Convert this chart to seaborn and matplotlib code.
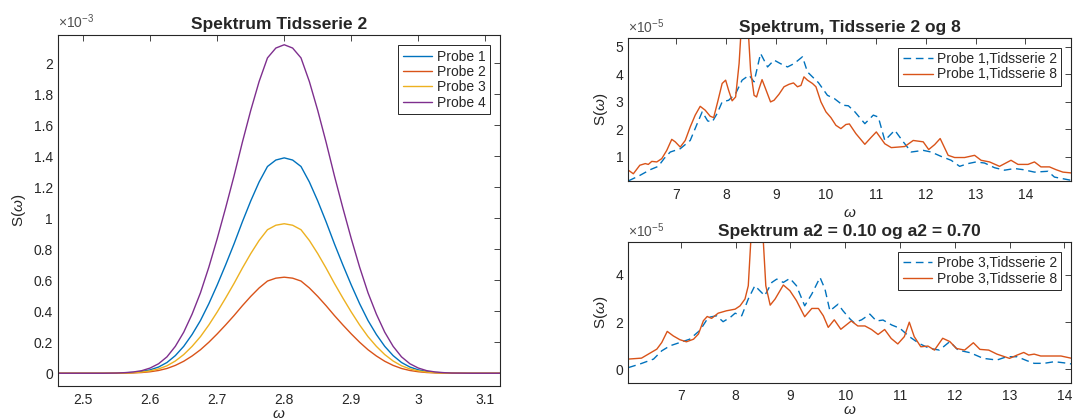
import numpy as np
import pandas as pd
import matplotlib
matplotlib.use("Agg")
import matplotlib.pyplot as plt
from matplotlib.ticker import FuncFormatter
import seaborn as sns

# ---------------- data ----------------
# Left panel: spectra for four probes, time series 2 (S in units of 1e-3)
omega_left = [2.46, 2.50, 2.53, 2.55, 2.5625, 2.575, 2.5875, 2.60, 2.6125, 2.625,
              2.6375, 2.65, 2.6625, 2.675, 2.6875, 2.70, 2.7125, 2.725, 2.7375,
              2.75, 2.7625, 2.775, 2.7875, 2.80, 2.8125, 2.825, 2.8375, 2.85,
              2.8625, 2.875, 2.8875, 2.90, 2.9125, 2.925, 2.9375, 2.95, 2.9625,
              2.975, 2.9875, 3.00, 3.0125, 3.025, 3.0375, 3.05, 3.08, 3.125]
spectrum_shape = [0.0, 0.0, 0.0, 0.0006, 0.002, 0.004, 0.008, 0.016, 0.029, 0.050,
                  0.082, 0.125, 0.180, 0.245, 0.323, 0.410, 0.503, 0.600, 0.703,
                  0.800, 0.888, 0.960, 0.990, 1.000, 0.990, 0.960, 0.888, 0.800,
                  0.703, 0.600, 0.503, 0.410, 0.323, 0.245, 0.180, 0.125, 0.082,
                  0.050, 0.029, 0.016, 0.008, 0.004, 0.002, 0.0006, 0.0, 0.0]
probe_names = ["Probe 1", "Probe 2", "Probe 3", "Probe 4"]
probe_peaks = [1.39, 0.62, 0.965, 2.12]

# Top right: probe 1, time series 2 and 8 (S in units of 1e-5)
w_p1_ts2 = [6.04, 6.27, 6.48, 6.64, 6.76, 6.88, 7.08, 7.28, 7.42, 7.52, 7.63, 7.72,
            7.82, 7.92, 8.05, 8.19, 8.32, 8.46, 8.56, 8.69, 8.83, 8.96, 9.09, 9.23,
            9.36, 9.53, 9.63, 9.73, 9.85, 10.03, 10.17, 10.34, 10.45, 10.58, 10.78,
            10.95, 11.05, 11.18, 11.38, 11.55, 11.71, 11.95, 12.11, 12.31, 12.51,
            12.68, 12.85, 13.01, 13.18, 13.38, 13.58, 13.78, 13.95, 14.18, 14.45,
            14.58, 14.75, 14.92]
s_p1_ts2 = [0.13, 0.33, 0.54, 0.66, 0.95, 1.18, 1.30, 1.60, 2.21, 2.64, 2.31, 2.27,
            2.58, 3.00, 3.06, 3.30, 3.79, 3.97, 3.73, 4.76, 4.27, 4.52, 4.39, 4.27,
            4.39, 4.64, 4.09, 3.91, 3.70, 3.24, 3.12, 2.88, 2.86, 2.64, 2.21,
            2.52, 2.45, 1.60, 1.97, 1.55, 1.18, 1.24, 1.18, 1.02, 0.88,
            0.66, 0.76, 0.82, 0.78, 0.61, 0.52, 0.58, 0.54, 0.45, 0.48,
            0.27, 0.21, 0.15]

w_p1_ts8 = [6.04, 6.14, 6.27, 6.38, 6.44, 6.51, 6.61, 6.71, 6.81, 6.91, 6.98, 7.08,
            7.18, 7.28, 7.38, 7.48, 7.58, 7.68, 7.75, 7.83, 7.92, 7.99, 8.05, 8.12,
            8.19, 8.26, 8.32, 8.37, 8.43, 8.49, 8.56, 8.61, 8.66, 8.72, 8.79, 8.89,
            8.96, 9.06, 9.16, 9.26, 9.35, 9.43, 9.50, 9.56, 9.63, 9.73, 9.80, 9.90,
            10.00, 10.10, 10.20, 10.30, 10.40, 10.47, 10.60, 10.78, 10.90, 11.01,
            11.18, 11.31, 11.45, 11.58, 11.75, 11.95, 12.06, 12.18, 12.29, 12.45,
            12.58, 12.78, 12.98, 13.11, 13.28, 13.48, 13.71, 13.85, 14.05, 14.18,
            14.31, 14.48, 14.61, 14.75, 14.92]
s_p1_ts8 = [0.52, 0.39, 0.70, 0.76, 0.73, 0.84, 0.82, 0.94, 1.24, 1.64, 1.55, 1.36,
            1.60, 2.09, 2.52, 2.84, 2.70, 2.48, 2.43, 3.00, 3.67, 3.79, 3.42, 3.04,
            3.18, 4.40, 6.20, 6.80, 6.00, 4.15, 3.24, 3.18, 3.48, 3.81, 3.48, 3.00,
            3.06, 3.28, 3.55, 3.64, 3.69, 3.55, 3.60, 3.91, 3.79, 3.67, 3.55, 3.00,
            2.64, 2.43, 2.15, 2.03, 2.18, 2.20, 1.85, 1.46, 1.70, 1.91,
            1.48, 1.34, 1.36, 1.38, 1.60, 1.55, 1.27, 1.45, 1.67, 1.06,
            0.98, 0.98, 1.06, 0.88, 0.82, 0.66, 0.88, 0.73, 0.73, 0.82,
            0.64, 0.64, 0.54, 0.45, 0.42]

# Bottom right: probe 3, time series 2 and 8 (S in units of 1e-5)
w_p3_ts2 = [6.04, 6.25, 6.50, 6.65, 6.80, 6.98, 7.16, 7.35, 7.50, 7.65, 7.77, 7.90,
            7.99, 8.11, 8.23, 8.35, 8.44, 8.53, 8.66, 8.75, 8.87, 8.99, 9.11, 9.26,
            9.39, 9.54, 9.63, 9.72, 9.87, 9.96, 10.09, 10.16, 10.30, 10.45, 10.57,
            10.69, 10.85, 11.00, 11.17, 11.35, 11.54, 11.72, 11.91, 12.06, 12.28,
            12.52, 12.77, 12.95, 13.14, 13.32, 13.45, 13.63, 13.82, 14.00, 14.14]
s_p3_ts2 = [0.08, 0.23, 0.44, 0.79, 1.00, 1.14, 1.28, 1.66, 2.20, 2.27, 2.02, 2.20,
            2.38, 2.27, 2.98, 3.54, 3.33, 3.12, 3.68, 3.82, 3.68, 3.85, 3.54, 2.69,
            3.19, 3.89, 3.40, 2.48, 2.76, 2.48, 2.13, 1.98, 2.10, 2.34, 2.05,
            2.09, 1.88, 1.74, 1.39, 1.10, 0.89, 0.82, 1.18, 0.82, 0.71,
            0.47, 0.40, 0.54, 0.54, 0.37, 0.26, 0.26, 0.33, 0.28, 0.23]

w_p3_ts8 = [6.04, 6.28, 6.56, 6.65, 6.75, 6.86, 6.98, 7.10, 7.23, 7.32, 7.41, 7.48,
            7.56, 7.68, 7.83, 7.99, 8.08, 8.17, 8.23, 8.28, 8.35, 8.45, 8.50, 8.55,
            8.63, 8.72, 8.87, 8.99, 9.11, 9.26, 9.39, 9.51, 9.60, 9.69, 9.80, 9.92,
            10.11, 10.23, 10.36, 10.48, 10.60, 10.72, 10.84, 10.96, 11.08, 11.17,
            11.26, 11.38, 11.51, 11.63, 11.78, 11.91, 12.03, 12.18, 12.34, 12.46,
            12.62, 12.77, 13.00, 13.14, 13.26, 13.35, 13.45, 13.57, 13.75, 13.94,
            14.14]
s_p3_ts8 = [0.44, 0.48, 0.86, 1.14, 1.61, 1.42, 1.26, 1.17, 1.28, 1.50, 2.06, 2.24,
            2.16, 2.38, 2.48, 2.55, 2.69, 2.98, 3.54, 5.60, 7.00, 7.00, 5.60, 3.54,
            2.72, 2.98, 3.57, 3.33, 2.91, 2.23, 2.58, 2.58, 2.27, 1.78, 2.10, 1.70,
            2.05, 1.84, 1.84, 1.69, 1.48, 1.69, 1.31, 1.08, 1.39, 2.00,
            1.39, 0.96, 0.99, 0.82, 1.32, 1.18, 0.89, 0.82, 1.13, 0.85,
            0.82, 0.65, 0.47, 0.61, 0.72, 0.61, 0.65, 0.57, 0.57, 0.57,
            0.47]

# ---------------- style ----------------
sns.set_style("white")
plt.rcParams["font.family"] = ["Liberation Sans", "DejaVu Sans"]
plt.rcParams["mathtext.fontset"] = "custom"
plt.rcParams["mathtext.rm"] = "Liberation Sans"
plt.rcParams["mathtext.it"] = "Liberation Sans:italic"
plt.rcParams["axes.linewidth"] = 0.8

INK = "#262626"
C_BLUE = "#0072BD"
C_ORANGE = "#D95319"
C_YELLOW = "#EDB120"
C_PURPLE = "#7E2F8E"
DASH = (0, (5.5, 3.4))

fig = plt.figure(figsize=(10.73, 4.19), dpi=100)
ax1 = fig.add_axes([0.0538, 0.0788, 0.4122, 0.8377])
ax2 = fig.add_axes([0.5856, 0.568, 0.4129, 0.3425])
ax3 = fig.add_axes([0.5856, 0.0871, 0.4129, 0.336])

fmt = FuncFormatter(lambda v, p: f"{v:g}")


def style_axes(ax, exponent, xlabelpad=3):
    for sp in ax.spines.values():
        sp.set_color(INK)
        sp.set_linewidth(0.8)
    ax.tick_params(axis="both", direction="in", top=True, right=True,
                   length=4, width=0.6, colors=INK, labelsize=10)
    ax.tick_params(axis="x", pad=5)
    ax.tick_params(axis="y", pad=3.5)
    ax.xaxis.set_major_formatter(fmt)
    ax.yaxis.set_major_formatter(fmt)
    ax.set_xlabel(r"$\omega$", fontsize=11, color=INK, labelpad=xlabelpad)
    ax.set_ylabel(r"S($\omega$)", fontsize=11, color=INK, labelpad=4)
    ax.text(0.0, 1.012, r"$\times10^{%d}$" % exponent, transform=ax.transAxes,
            ha="left", va="bottom", fontsize=10, color="#505050")


def legend(ax, handlelength=2.15):
    leg = ax.legend(loc="upper right", fontsize=10, frameon=True, fancybox=False,
                    edgecolor=INK, framealpha=1, borderpad=0.3, labelspacing=0.1,
                    handlelength=handlelength, handletextpad=0.3,
                    borderaxespad=0.75)
    leg.get_frame().set_linewidth(0.7)
    for t in leg.get_texts():
        t.set_color(INK)


# ---------------- left panel ----------------
left_colors = [C_BLUE, C_ORANGE, C_YELLOW, C_PURPLE]
for name, peak, col in zip(probe_names, probe_peaks, left_colors):
    vals = [peak * s for s in spectrum_shape]
    sns.lineplot(x=omega_left, y=vals, ax=ax1, color=col, linewidth=1.0,
                 label=name, estimator=None, sort=False)
ax1.set_xlim(2.462, 3.122)
ax1.set_ylim(-0.082, 2.183)
ax1.set_xticks([2.5, 2.6, 2.7, 2.8, 2.9, 3.0, 3.1])
ax1.set_yticks([0, 0.2, 0.4, 0.6, 0.8, 1.0, 1.2, 1.4, 1.6, 1.8, 2.0])
style_axes(ax1, -3, xlabelpad=0)
ax1.set_title("Spektrum Tidsserie 2", fontsize=12.5, fontweight="bold", pad=4)
legend(ax1)

# ---------------- top right ----------------
sns.lineplot(x=w_p1_ts2, y=s_p1_ts2, ax=ax2, color=C_BLUE, linewidth=1.0,
             linestyle=DASH, label="Probe 1,Tidsserie 2", estimator=None, sort=False)
sns.lineplot(x=w_p1_ts8, y=s_p1_ts8, ax=ax2, color=C_ORANGE, linewidth=1.0,
             label="Probe 1,Tidsserie 8", estimator=None, sort=False)
ax2.set_xlim(6.04, 14.92)
ax2.set_ylim(0.127, 5.34)
ax2.set_xticks(range(7, 15))
ax2.set_yticks([1, 2, 3, 4, 5])
style_axes(ax2, -5)
ax2.set_title("Spektrum, Tidsserie 2 og 8", fontsize=12.5, fontweight="bold", pad=4)
legend(ax2)

# ---------------- bottom right ----------------
sns.lineplot(x=w_p3_ts2, y=s_p3_ts2, ax=ax3, color=C_BLUE, linewidth=1.0,
             linestyle=DASH, label="Probe 3,Tidsserie 2", estimator=None, sort=False)
sns.lineplot(x=w_p3_ts8, y=s_p3_ts8, ax=ax3, color=C_ORANGE, linewidth=1.0,
             label="Probe 3,Tidsserie 8", estimator=None, sort=False)
ax3.set_xlim(6.04, 14.13)
ax3.set_ylim(-0.55, 5.4)
ax3.set_xticks(range(7, 15))
ax3.set_yticks([0, 2, 4])
style_axes(ax3, -5, xlabelpad=0)
ax3.set_title("Spektrum a2 = 0.10 og a2 = 0.70", fontsize=12.5, fontweight="bold", pad=4)
legend(ax3)

fig.savefig("out.png", dpi=100)
